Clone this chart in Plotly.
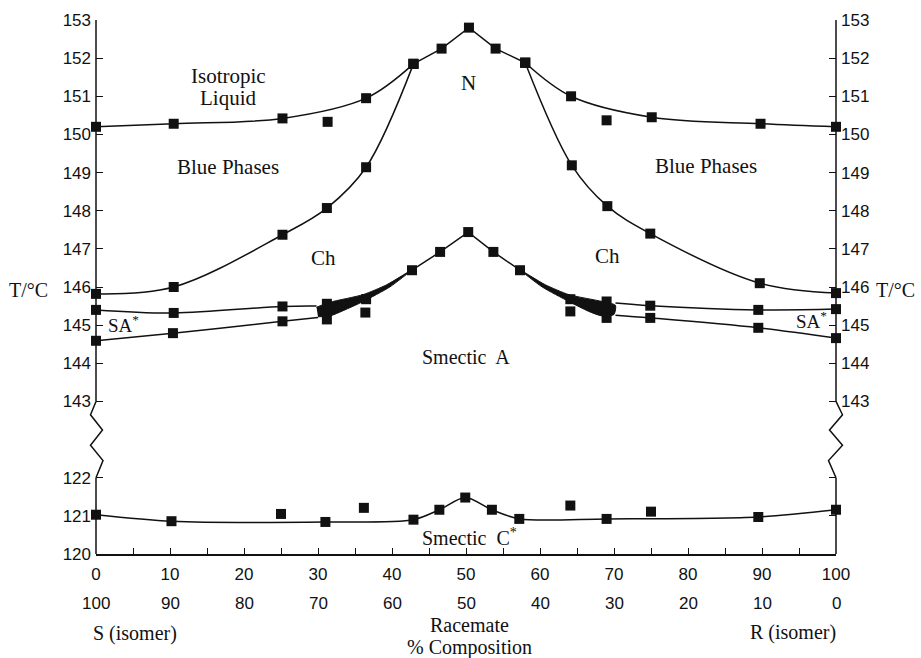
import plotly.graph_objects as go

# ---------------- data (T in °C vs % composition) ----------------
# Isotropic liquid -> Blue phases / N boundary
iso_left_x = [0, 10.5, 25.2, 36.5, 42.9]
iso_left_T = [150.2, 150.28, 150.42, 150.95, 151.85]
n_top_x = [42.9, 46.7, 50.4, 54.0, 58.0]
n_top_T = [151.85, 152.25, 152.8, 152.25, 151.88]
iso_right_x = [58.0, 64.2, 75.1, 89.8, 100]
iso_right_T = [151.88, 151.0, 150.45, 150.28, 150.2]
iso_off_x = [31.3, 69.0]
iso_off_T = [150.33, 150.37]

# Blue phases -> Ch boundary
bp_left_x = [0, 10.5, 25.2, 31.2, 36.5, 42.9]
bp_left_T = [145.82, 146.0, 147.37, 148.07, 149.14, 151.85]
bp_right_x = [58.0, 64.3, 69.1, 74.9, 89.7, 100]
bp_right_T = [151.88, 149.19, 148.12, 147.4, 146.1, 145.84]

# Ch -> Smectic A (centre)
ch_x = [42.7, 46.5, 50.3, 53.7, 57.3]
ch_T = [146.44, 146.92, 147.44, 146.92, 146.44]

# Ch -> SA* (upper) and SA* -> SmA (lower) boundaries
sau_left_x = [0, 10.5, 25.2, 29.8]
sau_left_T = [145.4, 145.32, 145.49, 145.5]
sal_left_x = [0, 10.4, 25.2, 30.0]
sal_left_T = [144.59, 144.79, 145.10, 145.2]
sau_right_x = [70.2, 74.9, 89.5, 100]
sau_right_T = [145.58, 145.51, 145.4, 145.42]
sal_right_x = [70.2, 74.9, 89.5, 100]
sal_right_T = [145.26, 145.19, 144.93, 144.66]

# narrowing two-phase wedges
wedge_left_x = [29.8, 31.6, 36.1, 39.3, 42.7, 39.7, 36.1, 33.4, 31.6, 30.0]
wedge_left_T = [145.47, 145.6, 145.8, 146.06, 146.45, 146.0, 145.62, 145.38, 145.24, 145.22]
wedge_right_x = [57.3, 60.7, 63.9, 68.4, 70.2, 70.0, 68.4, 66.6, 63.9, 60.3, 57.3]
wedge_right_T = [146.45, 146.06, 145.8, 145.62, 145.52, 145.28, 145.24, 145.36, 145.62, 146.0, 146.45]

# SA* region squares
sa_up_x = [0, 10.5, 25.2, 31.2, 36.5, 64.1, 69.0, 74.9, 89.5, 100]
sa_up_T = [145.4, 145.32, 145.49, 145.56, 145.68, 145.68, 145.62, 145.51, 145.4, 145.42]
sa_lo_x = [0, 10.4, 25.2, 31.2, 36.4, 64.1, 69.0, 74.9, 89.5, 100]
sa_lo_T = [144.59, 144.79, 145.10, 145.15, 145.33, 145.36, 145.19, 145.19, 144.93, 144.66]

# Smectic A -> Smectic C*
smc_x = [0, 10.2, 31.0, 42.9, 46.4, 49.9, 53.5, 57.2, 69.0, 89.5, 100]
smc_T = [121.03, 120.86, 120.84, 120.9, 121.16, 121.48, 121.16, 120.92, 120.92, 120.97, 121.16]
smc_off_x = [25.0, 36.2, 64.1, 75.0]
smc_off_T = [121.05, 121.21, 121.27, 121.11]

# axis ticks
x_major = list(range(0, 101, 10))
x_major_labels = [str(v) for v in x_major]
x_minor = list(range(5, 100, 10))
x_second_labels = [str(100 - v) for v in x_major]
y_tick_T = [120, 121, 122, 143, 144, 145, 146, 147, 148, 149, 150, 151, 152, 153]
y_right_T = [143, 144, 145, 146, 147, 148, 149, 150, 151, 152, 153]
y_right_minor_T = [120, 121, 122]

# ---------------- broken axis transform ----------------
BREAK_SHIFT = 19  # 143..153 drawn directly above 120..122 with a 2-degree gap


def u(vals):
    return [t - BREAK_SHIFT if t > 130 else t for t in vals]


BLACK = "#111111"
SERIF = "Liberation Serif, Times New Roman, serif"
SANS = "Liberation Sans, Arial, sans-serif"

fig = go.Figure()


def line(x, T, shape="spline", smooth=1.0, markers=True):
    fig.add_trace(go.Scatter(
        x=x, y=u(T), mode="lines+markers" if markers else "lines",
        line=dict(color=BLACK, width=1.5, shape=shape, smoothing=smooth),
        marker=dict(symbol="square", size=10, color=BLACK),
        showlegend=False, hoverinfo="skip", cliponaxis=False))


def pts(x, T):
    fig.add_trace(go.Scatter(
        x=x, y=u(T), mode="markers",
        marker=dict(symbol="square", size=10, color=BLACK),
        showlegend=False, hoverinfo="skip", cliponaxis=False))


def wedge(x, T):
    fig.add_trace(go.Scatter(
        x=x, y=u(T), mode="lines", fill="toself", fillcolor=BLACK,
        line=dict(color=BLACK, width=1, shape="spline", smoothing=0.6),
        showlegend=False, hoverinfo="skip"))


wedge(wedge_left_x, wedge_left_T)
wedge(wedge_right_x, wedge_right_T)

line(iso_left_x, iso_left_T)
line(n_top_x, n_top_T, shape="linear")
line(iso_right_x, iso_right_T)
pts(iso_off_x, iso_off_T)

line(bp_left_x, bp_left_T)
line(bp_right_x, bp_right_T)

line(ch_x, ch_T, shape="linear")

line(sau_left_x, sau_left_T, markers=False)
line(sal_left_x, sal_left_T, markers=False)
line(sau_right_x, sau_right_T, markers=False)
line(sal_right_x, sal_right_T, markers=False)
pts(sa_up_x, sa_up_T)
pts(sa_lo_x, sa_lo_T)

line(smc_x, smc_T, smooth=0.8)
pts(smc_off_x, smc_off_T)

# invisible trace for the right-hand axis
fig.add_trace(go.Scatter(x=[0], y=[120], yaxis="y2", mode="markers",
                         marker=dict(opacity=0), showlegend=False, hoverinfo="skip"))

# ---------------- layout ----------------
L, R, T_, B = 96, 85, 20, 104
W, H = 921, 658
PW, PH = W - L - R, H - T_ - B


def P(px, py):
    return (px - L) / PW, (H - B - py) / PH


tick_common = dict(ticks="inside", tickwidth=1.2, tickcolor=BLACK,
                   showgrid=False, zeroline=False, ticklabelstandoff=4,
                   tickfont=dict(family=SANS, size=17, color=BLACK))

fig.update_layout(
    width=W, height=H,
    margin=dict(l=L, r=R, t=T_, b=B),
    paper_bgcolor="white", plot_bgcolor="white",
    xaxis=dict(range=[0, 100], tickvals=x_major, ticktext=x_major_labels, ticklen=6,
               minor=dict(tickvals=x_minor, ticks="inside", ticklen=6, tickwidth=1.2,
                          tickcolor=BLACK, showgrid=False),
               showline=True, linecolor=BLACK, linewidth=1.5, mirror=False,
               **tick_common),
    yaxis=dict(range=[120, 134], tickvals=u(y_tick_T), ticktext=[str(t) for t in y_tick_T],
               ticklen=7, showline=False, **tick_common),
    yaxis2=dict(range=[120, 134], tickvals=u(y_right_T), ticktext=[str(t) for t in y_right_T],
                minor=dict(tickvals=u(y_right_minor_T), ticks="inside", ticklen=7,
                           tickwidth=1.2, tickcolor=BLACK, showgrid=False),
                overlaying="y", side="right", anchor="x", ticklen=7, showline=False,
                **tick_common),
)

# broken vertical axis lines with zig-zag (paper x so nothing is clipped)
shapes = []
for xa, zz in ((0, [0, -5.5, 6.5, -5.5, 7, 0]), (1, [0, 6.5, -6.5, 6.5, -7.5, 0])):
    shapes.append(dict(type="line", xref="paper", yref="y", x0=xa, x1=xa, y0=120, y1=122,
                       line=dict(color=BLACK, width=1.5)))
    shapes.append(dict(type="line", xref="paper", yref="y", x0=xa, x1=xa, y0=124, y1=134,
                       line=dict(color=BLACK, width=1.5)))
    ys = [124, 123.65, 123.25, 122.85, 122.45, 122]
    path = "M" + " L".join(f"{dx},{yy}" for dx, yy in zip(zz, ys))
    shapes.append(dict(type="path", xref="paper", yref="y", xsizemode="pixel", xanchor=xa,
                       path=path, line=dict(color=BLACK, width=1.5)))
fig.update_layout(shapes=shapes)


def text(s, px, py, size=21, font=SERIF, xanchor="center"):
    xp, yp = P(px, py)
    fig.add_annotation(text=s, x=xp, y=yp, xref="paper", yref="paper",
                       showarrow=False, xanchor=xanchor, yanchor="middle",
                       font=dict(family=font, size=size, color=BLACK))


text("Isotropic", 228, 76)
text("Liquid", 228, 98)
text("Blue Phases", 228, 167)
text("Blue Phases", 706, 166)
text("N", 468, 83)
text("Ch", 323, 258)
text("Ch", 607, 256)
text("SA<sup>*</sup>", 123, 324, size=19)
text("SA<sup>*</sup>", 811, 320, size=19)
text("Smectic  A", 466, 357, size=20)
text("Smectic  C<sup>*</sup>", 470, 537, size=20)
text("T/°C", 28, 290, size=20)
text("T/°C", 895, 290, size=20)

# second row of x labels (percentage of the other isomer)
for v, lab in zip(x_major, x_second_labels):
    fig.add_annotation(text=lab, x=v, y=0, xref="x", yref="paper", yshift=-49,
                       showarrow=False, xanchor="center", yanchor="middle",
                       font=dict(family=SANS, size=17, color=BLACK))

text("S (isomer)", 135, 633, size=20)
text("R (isomer)", 793, 632, size=20)
text("Racemate", 470, 625, size=20)
text("% Composition", 470, 647, size=20)

fig.write_html("out.html", config={"displayModeBar": False},
               post_script="document.body.style.margin='0';document.body.style.overflow='hidden';")
